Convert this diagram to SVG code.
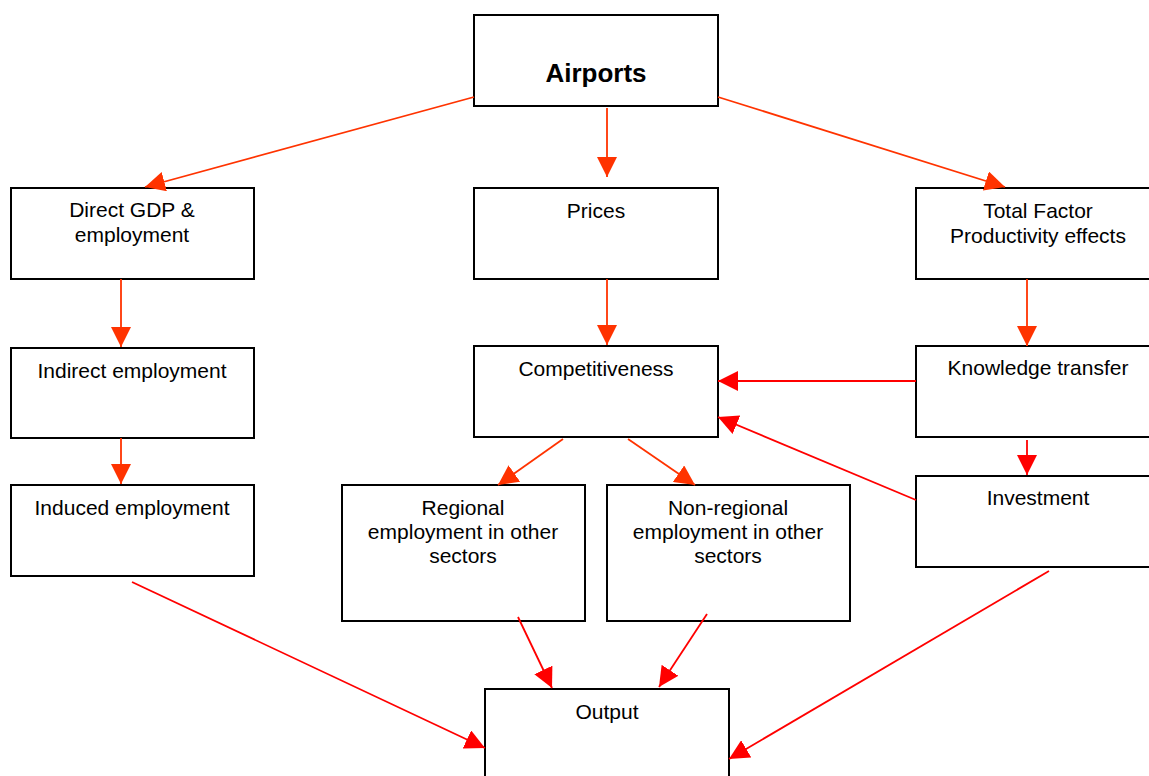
<svg xmlns="http://www.w3.org/2000/svg" width="1149" height="776" viewBox="0 0 1149 776">
<style>
.box{fill:#fff;stroke:#000;stroke-width:2}
.t{font-family:"Liberation Sans",Arial,sans-serif;font-size:21px;fill:#000;text-anchor:middle}
.tb{font-family:"Liberation Sans",Arial,sans-serif;font-size:26px;font-weight:bold;fill:#000;text-anchor:middle}
.o{stroke:#FF3300;stroke-width:1.8;fill:none;marker-end:url(#ao)}
.r{stroke:#FF0000;stroke-width:1.8;fill:none;marker-end:url(#ar)}
</style>
<defs>
<marker id="ao" markerUnits="userSpaceOnUse" markerWidth="20" markerHeight="20" refX="20" refY="10" orient="auto" viewBox="0 0 20 20"><path d="M0,0 L20,10 L0,20 z" fill="#FF3300"/></marker>
<marker id="ar" markerUnits="userSpaceOnUse" markerWidth="20" markerHeight="20" refX="20" refY="10" orient="auto" viewBox="0 0 20 20"><path d="M0,0 L20,10 L0,20 z" fill="#FF0000"/></marker>
</defs>
<rect width="1149" height="776" fill="#fff"/>
<g id="airports"><rect class="box" x="474" y="15" width="244" height="91"/><text class="tb" x="596" y="82">Airports</text></g>
<g id="direct"><rect class="box" x="11" y="188" width="243" height="91"/><text class="t" x="132" y="217">Direct GDP &amp;</text><text class="t" x="132" y="242">employment</text></g>
<g id="prices"><rect class="box" x="474" y="188" width="244" height="91"/><text class="t" x="596" y="218">Prices</text></g>
<g id="tfp"><rect class="box" x="916" y="188" width="244" height="91"/><text class="t" x="1038" y="218">Total Factor</text><text class="t" x="1038" y="243">Productivity effects</text></g>
<g id="indirect"><rect class="box" x="11" y="348" width="243" height="90"/><text class="t" x="132" y="378">Indirect employment</text></g>
<g id="competitiveness"><rect class="box" x="474" y="346" width="244" height="91"/><text class="t" x="596" y="376">Competitiveness</text></g>
<g id="knowledge"><rect class="box" x="916" y="346" width="244" height="91"/><text class="t" x="1038" y="375">Knowledge transfer</text></g>
<g id="induced"><rect class="box" x="11" y="485" width="243" height="91"/><text class="t" x="132" y="515">Induced employment</text></g>
<g id="regional"><rect class="box" x="342" y="485" width="243" height="136"/><text class="t" x="463" y="515">Regional</text><text class="t" x="463" y="539">employment in other</text><text class="t" x="463" y="563">sectors</text></g>
<g id="nonregional"><rect class="box" x="607" y="485" width="243" height="136"/><text class="t" x="728" y="515">Non-regional</text><text class="t" x="728" y="539">employment in other</text><text class="t" x="728" y="563">sectors</text></g>
<g id="investment"><rect class="box" x="916" y="476" width="244" height="91"/><text class="t" x="1038" y="505">Investment</text></g>
<g id="output"><rect class="box" x="485" y="689" width="244" height="92"/><text class="t" x="607" y="719">Output</text></g>
<g id="connectors">
<line class="o" x1="474" y1="97" x2="145" y2="187"/>
<line class="o" x1="607" y1="108" x2="607" y2="177"/>
<line class="o" x1="718" y1="97" x2="1005" y2="187"/>
<line class="o" x1="121" y1="279" x2="121" y2="347"/>
<line class="o" x1="121" y1="438" x2="121" y2="484"/>
<line class="o" x1="607" y1="279" x2="607" y2="345"/>
<line class="o" x1="1027" y1="279" x2="1027" y2="346"/>
<line class="r" x1="1027" y1="440" x2="1027" y2="475"/>
<line class="r" x1="916" y1="381" x2="718" y2="381"/>
<line class="r" x1="916" y1="500" x2="718" y2="417"/>
<line class="o" x1="563" y1="439" x2="498" y2="485"/>
<line class="o" x1="628" y1="439" x2="695" y2="485"/>
<line class="r" x1="132" y1="582" x2="485" y2="748"/>
<line class="r" x1="518" y1="617" x2="552" y2="688"/>
<line class="r" x1="707" y1="614" x2="659" y2="687"/>
<line class="r" x1="1049" y1="571" x2="729" y2="759"/>
</g>
</svg>
